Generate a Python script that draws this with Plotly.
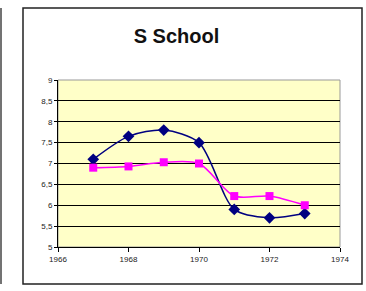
import plotly.graph_objects as go

years = [1967, 1968, 1969, 1970, 1971, 1972, 1973]
series_blue = [7.1, 7.65, 7.8, 7.5, 5.9, 5.7, 5.8]
series_pink = [6.9, 6.93, 7.03, 7.0, 6.22, 6.22, 6.0]
title_text = "S School"

fig = go.Figure()
fig.add_trace(go.Scatter(x=years, y=series_blue, mode="lines+markers",
                         line=dict(color="#000080", width=1.5, shape="spline", smoothing=0.8),
                         marker=dict(symbol="diamond", size=9, color="#000080"),
                         showlegend=False))
fig.add_trace(go.Scatter(x=years, y=series_pink, mode="lines+markers",
                         line=dict(color="#FF00FF", width=1.5, shape="spline", smoothing=0.8),
                         marker=dict(symbol="square", size=8, color="#FF00FF"),
                         showlegend=False))

L, R, T, B = 58, 26, 80, 44
W, H = 366, 291
pw, ph = W - L - R, H - T - B
def px(xp): return (xp - L) / pw
def py(yp): return (H - B - yp) / ph

fig.update_layout(
    width=W, height=H,
    margin=dict(l=L, r=R, t=T, b=B),
    paper_bgcolor="white",
    plot_bgcolor="#FFFFC8",
    separators=", ",
    font=dict(family="Liberation Sans, Arial", size=8, color="#222222"),
    title=dict(text="<b>" + title_text + "</b>", x=px(194), xanchor="center",
               y=1 - 36 / H, yanchor="middle",
               font=dict(size=20, color="#111111")),
    shapes=[
        dict(type="rect", xref="paper", yref="paper", x0=px(23), x1=px(362),
             y0=py(284), y1=py(8), line=dict(color="#222222", width=1.5), layer="below"),
        dict(type="line", xref="paper", yref="paper", x0=px(1), x1=px(1),
             y0=py(284), y1=py(8), line=dict(color="#444444", width=1.5)),
        dict(type="rect", xref="paper", yref="paper", x0=0, x1=1, y0=0, y1=1,
             line=dict(color="#999999", width=1), layer="below"),
    ],
)
fig.update_xaxes(range=[1966, 1974], dtick=2, tick0=1966, showgrid=False,
                 showline=True, linecolor="black", linewidth=1,
                 ticks="outside", ticklen=4, tickcolor="black", zeroline=False)
fig.update_yaxes(range=[5, 9], dtick=0.5, tick0=5, showgrid=True,
                 gridcolor="black", gridwidth=1,
                 showline=True, linecolor="black", linewidth=1,
                 ticks="outside", ticklen=3, tickcolor="black", zeroline=False)

fig.write_html("out.html", config={"displayModeBar": False},
               post_script="document.body.style.margin='0';document.body.style.padding='0';")
